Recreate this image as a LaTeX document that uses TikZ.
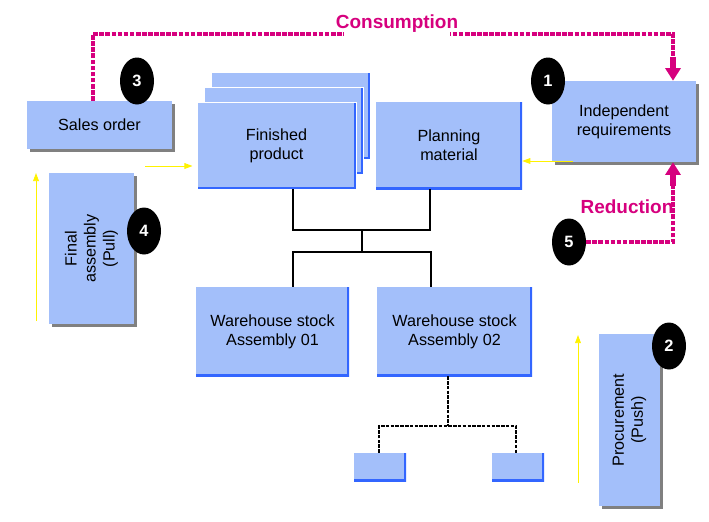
\documentclass[tikz,border=0pt]{standalone}
\usepackage{fontspec}
\setmainfont{Liberation Sans}
\usetikzlibrary{arrows.meta,shapes.geometric,shadows}
\definecolor{boxblue}{HTML}{A3BFFA}
\definecolor{edgeblue}{HTML}{3366FF}
\definecolor{sapmagenta}{HTML}{D6007E}
\definecolor{shadegray}{HTML}{808080}
\tikzset{
    every node/.style={font=\fontsize{13.8}{16.2}\selectfont},
    box/.style={rectangle,fill=boxblue,inner sep=0pt,align=center},
    shadowbox/.style={box,drop shadow={shadow xshift=0.08cm,shadow yshift=-0.08cm,fill=shadegray,opacity=1}},
    edgebox/.style={box,path picture={\draw[edgeblue,line width=0.12cm] (path picture bounding box.north east) -- (path picture bounding box.south east) -- (path picture bounding box.south west);}},
    layer/.style={edgebox,draw=white,line width=0.8pt,minimum width=4.77cm,minimum height=2.61cm},
    numdot/.style={ellipse,fill=black,minimum width=1.02cm,minimum height=1.41cm,inner sep=0pt,text=white,font=\fontsize{14}{16}\selectfont\bfseries},
    flowlabel/.style={text=sapmagenta,font=\fontsize{16.2}{19}\selectfont\bfseries},
    flowline/.style={draw=sapmagenta,line width=2.8pt,dash pattern=on 4pt off 1.2pt},
    flowhead/.style={draw=sapmagenta,line width=0.19cm,-{Triangle[width=0.45cm,length=0.38cm]}},
    pushpull/.style={draw=yellow,line width=0.8pt,-{Triangle[width=5pt,length=7pt]}},
    tree/.style={draw=black,line width=1.4pt},
    subtree/.style={draw=black,line width=1.8pt,dash pattern=on 3pt off 1.1pt}
}
\begin{document}
\begin{tikzpicture}[x=0.03cm,y=-0.03cm]
\useasboundingbox (0,0) rectangle (709,521);
\node[layer] (fin3) at (290.5,115.5) {};
\node[layer] (fin2) at (283.5,130.5) {};
\node[layer] (fin) at (276.5,145.5) {Finished\\product};
\node[edgebox,minimum width=4.38cm,minimum height=2.61cm] (plan) at (449,145.5) {Planning\\material};
\node[shadowbox,minimum width=4.35cm,minimum height=1.44cm] (sales) at (99.5,125) {Sales order};
\node[shadowbox,minimum width=4.32cm,minimum height=2.43cm] (indep) at (624,121.5) {Independent\\requirements};
\node[shadowbox,minimum width=2.55cm,minimum height=4.53cm] (final) at (91.5,248.5) {};
\node[rotate=90,align=center] (finaltext) at (final) {Final\\assembly\\(Pull)};
\node[shadowbox,minimum width=1.83cm,minimum height=5.16cm] (proc) at (629.5,420) {};
\node[rotate=90,align=center] (proctext) at (proc) {Procurement\\(Push)};
\node[edgebox,minimum width=4.59cm,minimum height=2.67cm] (wh1) at (272.5,331.5) {Warehouse stock\\Assembly 01};
\node[edgebox,minimum width=4.65cm,minimum height=2.67cm] (wh2) at (454.5,331.5) {Warehouse stock\\Assembly 02};
\node[edgebox,minimum width=1.56cm,minimum height=0.84cm] (small1) at (380,467) {};
\node[edgebox,minimum width=1.56cm,minimum height=0.84cm] (small2) at (518,467) {};

\coordinate (fa) at (293,230); \coordinate (pa) at (430,230);
\coordinate (tj) at (362,230); \coordinate (bj) at (362,252);
\coordinate (wa) at (293,252); \coordinate (wb) at (431,252);
\draw[tree] (fin.south -| fa) -- (fa) -- (pa) -- (plan.south -| pa);
\draw[tree] (tj) -- (bj);
\draw[tree] (wh1.north -| wa) -- (wa) -- (wb) -- (wh2.north -| wb);

\coordinate (sj) at (448,426); \coordinate (sa) at (379,426); \coordinate (sb) at (516,426);
\draw[subtree] (wh2.south -| sj) -- (sj);
\draw[subtree] (small1.north -| sa) -- (sa) -- (sb) -- (small2.north -| sb);

\foreach \n/\px/\py in {1/548/81,2/669/346,3/137/81,4/144/231,5/569/242}
    \node[numdot] (n\n) at (\px,\py) {\n};

\coordinate (ca) at (93,34); \coordinate (cb) at (673,34); \coordinate (cc) at (673,57);
\draw[flowline] (sales.north -| ca) -- (ca) -- (cb) -- (cc);
\draw[flowhead] (cc) -- (indep.north -| cc);
\node[flowlabel,fill=white,anchor=base,inner xsep=-0.24cm,inner ysep=0.12cm] (cons) at (397,28) {Consumption};

\coordinate (ra) at (673,242); \coordinate (rb) at (673,186);
\draw[flowline] (n5.east) -- (ra) -- (rb);
\draw[flowhead] (rb) -- (indep.south -| rb);
\node[flowlabel,anchor=base] (red) at (627,213) {Reduction};

\coordinate (ya) at (145,166); \coordinate (yb) at (573,161);
\coordinate (yc) at (36,321); \coordinate (yd) at (36,173);
\coordinate (ye) at (578,483); \coordinate (yf) at (578,335);
\draw[pushpull,shorten >=0.12cm] (ya) -- (fin.west |- ya);
\draw[pushpull] (yb) -- (plan.east |- yb);
\draw[pushpull] (yc) -- (yd);
\draw[pushpull] (ye) -- (yf);
\end{tikzpicture}
\end{document}
